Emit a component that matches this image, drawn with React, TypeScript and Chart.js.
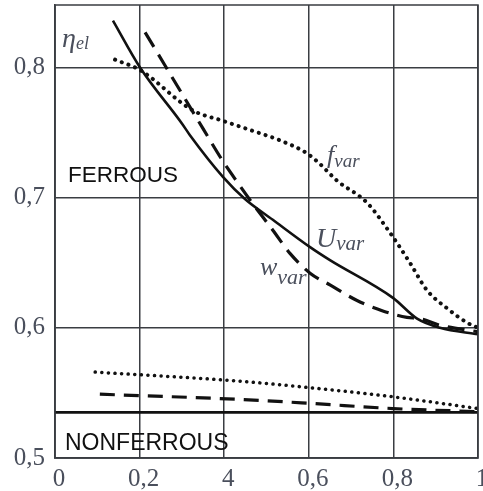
import React, { useEffect, useRef } from "react";
import { Chart, registerables } from "chart.js";

Chart.register(...registerables);

// ---- data ----
const xTicks = [0, 0.2, 0.4, 0.6, 0.8, 1];
const xTickLabels = ["0", "0,2", "4", "0,6", "0,8", "1"];
const yTicks = [0.5, 0.6, 0.7, 0.8];
const yTickLabels = ["0,5", "0,6", "0,7", "0,8"];

// ferrous
const uVarX = [0.137, 0.201, 0.3, 0.319, 0.397, 0.449, 0.515, 0.603, 0.65, 0.799, 0.856, 0.91, 1.0];
const uVarY = [0.836, 0.8, 0.757, 0.748, 0.716, 0.699, 0.683, 0.662, 0.652, 0.623, 0.607, 0.6, 0.595];

const wVarX = [0.213, 0.35, 0.395, 0.433, 0.466, 0.515, 0.556, 0.603, 0.65, 0.714, 0.775, 0.832, 0.863, 0.91, 1.0];
const wVarY = [0.827, 0.753, 0.729, 0.711, 0.696, 0.675, 0.657, 0.642, 0.633, 0.621, 0.613, 0.608, 0.607, 0.602, 0.597];

const fVarX = [0.142, 0.201, 0.326, 0.397, 0.461, 0.532, 0.596, 0.626, 0.667, 0.738, 0.792, 0.839, 0.879, 0.927, 0.974, 1.0];
const fVarY = [0.806, 0.798, 0.767, 0.759, 0.752, 0.744, 0.734, 0.726, 0.713, 0.696, 0.673, 0.65, 0.629, 0.615, 0.604, 0.6];

// nonferrous
const nfDotX = [0.095, 0.437, 0.603, 0.799, 1.0];
const nfDotY = [0.566, 0.559, 0.554, 0.547, 0.538];
const nfDashX = [0.106, 0.437, 0.603, 0.799, 1.0];
const nfDashY = [0.549, 0.545, 0.542, 0.538, 0.5356];
const nfSolidX = [0, 1];
const nfSolidY = [0.535, 0.535];

const pts = (xs: number[], ys: number[]) => xs.map((x, i) => ({ x, y: ys[i] }));

const LABEL_COLOR = "#4a4f5c";
const GRID_COLOR = "#3a3d42";
const LINE_COLOR = "#111111";

const zeroPad = (s: any) => {
  s.paddingLeft = 0;
  s.paddingRight = 0;
  s.paddingTop = 0;
  s.paddingBottom = 0;
};

const annotationPlugin = {
  id: "annotations",
  afterDraw(chart: any) {
    const ctx = chart.ctx as CanvasRenderingContext2D;
    const ca = chart.chartArea;
    ctx.save();
    // frame
    ctx.strokeStyle = GRID_COLOR;
    ctx.lineWidth = 1.5;
    ctx.strokeRect(ca.left, ca.top, ca.right - ca.left, ca.bottom - ca.top);

    ctx.textBaseline = "alphabetic";
    ctx.textAlign = "left";

    // region labels
    ctx.fillStyle = "#111111";
    ctx.font = '22.5px "Liberation Sans", Arial, sans-serif';
    ctx.fillText("FERROUS", 68, 182);
    ctx.font = '23px "Liberation Sans", Arial, sans-serif';
    ctx.fillText("NONFERROUS", 65, 450);

    const sub = (main: string, s: string, x: number, y: number, mainSize: number, subSize: number, subDy: number) => {
      ctx.fillStyle = LABEL_COLOR;
      ctx.font = `italic ${mainSize}px "Liberation Serif", "Times New Roman", serif`;
      ctx.fillText(main, x, y);
      const w = ctx.measureText(main).width;
      ctx.font = `italic ${subSize}px "Liberation Serif", "Times New Roman", serif`;
      ctx.fillText(s, x + w, y + subDy);
    };

    sub("η", "el", 62, 47, 28, 18, 2);
    sub("f", "var", 327, 163, 26, 19, 4);
    sub("U", "var", 316, 247, 28, 21, 3);
    sub("w", "var", 260, 275, 26, 22, 9);

    ctx.restore();
  },
};

export default function App() {
  const canvasRef = useRef<HTMLCanvasElement | null>(null);

  useEffect(() => {
    const canvas = canvasRef.current;
    if (!canvas) return;

    const common = {
      pointRadius: 0,
      fill: false,
      cubicInterpolationMode: "monotone" as const,
      borderColor: LINE_COLOR,
    };

    const chart = new Chart(canvas, {
      type: "line",
      data: {
        datasets: [
          { ...common, label: "U_var", data: pts(uVarX, uVarY), borderWidth: 2.6 },
          { ...common, label: "w_var", data: pts(wVarX, wVarY), borderWidth: 3.2, borderDash: [17, 9] },
          {
            ...common,
            label: "f_var",
            data: pts(fVarX, fVarY),
            borderWidth: 4,
            borderDash: [0.1, 7],
            borderCapStyle: "round",
          },
          {
            ...common,
            label: "nf dotted",
            data: pts(nfDotX, nfDotY),
            borderWidth: 3.5,
            borderDash: [0.1, 6.5],
            borderCapStyle: "round",
          },
          { ...common, label: "nf dashed", data: pts(nfDashX, nfDashY), borderWidth: 3.2, borderDash: [15, 9] },
          { ...common, label: "nf solid", data: pts(nfSolidX, nfSolidY), borderWidth: 2.8 },
        ],
      },
      options: {
        responsive: false,
        animation: false,
        devicePixelRatio: 1,
        layout: { padding: { top: 5, right: 5, left: 0, bottom: 0 } },
        plugins: { legend: { display: false }, tooltip: { enabled: false } },
        scales: {
          x: {
            type: "linear",
            min: 0,
            max: 1,
            afterBuildTicks: (s: any) => {
              s.ticks = xTicks.map((v) => ({ value: v }));
            },
            afterFit: (s: any) => {
              s.height = 33;
              zeroPad(s);
            },
            ticks: {
              callback: (_v: any, i: number) => xTickLabels[i],
              color: LABEL_COLOR,
              font: { family: '"Liberation Serif", "Times New Roman", serif', size: 25 },
              padding: 6,
              labelOffset: 4,
              maxRotation: 0,
              autoSkip: false,
            },
            grid: { color: GRID_COLOR, lineWidth: 1.5, drawTicks: false },
            border: { display: true, color: GRID_COLOR, width: 1.5 },
          },
          y: {
            type: "linear",
            min: 0.5,
            max: 0.848,
            afterBuildTicks: (s: any) => {
              s.ticks = yTicks.map((v) => ({ value: v }));
            },
            afterFit: (s: any) => {
              s.width = 55;
              zeroPad(s);
            },
            ticks: {
              callback: (_v: any, i: number) => yTickLabels[i],
              color: LABEL_COLOR,
              font: { family: '"Liberation Serif", "Times New Roman", serif', size: 25 },
              padding: 10,
              autoSkip: false,
            },
            grid: { color: GRID_COLOR, lineWidth: 1.5, drawTicks: false },
            border: { display: true, color: GRID_COLOR, width: 1.5 },
          },
        },
      },
      plugins: [annotationPlugin],
    });

    return () => chart.destroy();
  }, []);

  return (
    <div style={{ position: "fixed", left: 0, top: 0, width: 483, height: 491, background: "#ffffff" }}>
      <canvas ref={canvasRef} width={483} height={491} style={{ display: "block" }} />
    </div>
  );
}
